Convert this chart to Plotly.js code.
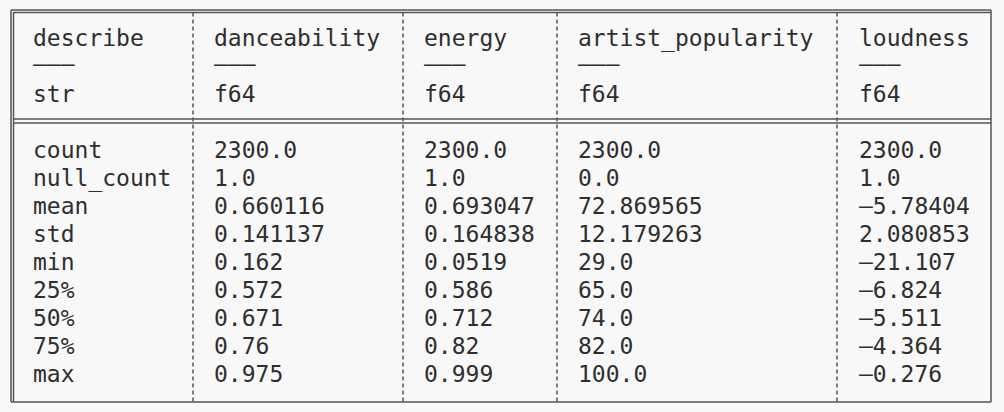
<!DOCTYPE html>
<html>
<head>
<meta charset="utf-8">
<script src="https://cdn.plot.ly/plotly-3.0.1.min.js"></script>
<style>html,body{margin:0;padding:0;background:#f8f8f8;}</style>
</head>
<body>
<div id="myDiv" style="width:1004px;height:412px;"></div>
<script>
var columns = ['describe', 'danceability', 'energy', 'artist_popularity', 'loudness'];
var dtypes = ['str', 'f64', 'f64', 'f64', 'f64'];
var stats = ['count', 'null_count', 'mean', 'std', 'min', '25%', '50%', '75%', 'max'];
var danceability = ['2300.0', '1.0', '0.660116', '0.141137', '0.162', '0.572', '0.671', '0.76', '0.975'];
var energy = ['2300.0', '1.0', '0.693047', '0.164838', '0.0519', '0.586', '0.712', '0.82', '0.999'];
var artistPopularity = ['2300.0', '0.0', '72.869565', '12.179263', '29.0', '65.0', '74.0', '82.0', '100.0'];
var loudness = ['2300.0', '1.0', '–5.78404', '2.080853', '–21.107', '–6.824', '–5.511', '–4.364', '–0.276'];

var colX = [33, 214, 424, 578, 859];
var sepX = [193, 403, 557, 837];
var lineColor = '#555';

var bodyCols = [stats, danceability, energy, artistPopularity, loudness];
var xs = [], ys = [], txt = [];
for (let c = 0; c < columns.length; c++) {
    xs.push(colX[c], colX[c], colX[c]);
    ys.push(40, 66, 96);
    txt.push(columns[c], '–––', dtypes[c]);
    for (let r = 0; r < bodyCols[c].length; r++) {
        xs.push(colX[c]);
        ys.push(152 + r * 28);
        txt.push(bodyCols[c][r]);
    }
}

var trace = {
    x: xs, y: ys, text: txt,
    mode: 'text', type: 'scatter',
    textposition: 'middle right',
    textfont: {family: 'DejaVu Sans Mono', size: 23, color: '#2e2e2e'},
    hoverinfo: 'none'
};

function hline(y, x0, x1) {
    return {type: 'line', xref: 'x', yref: 'y', x0: x0, x1: x1, y0: y, y1: y, line: {color: lineColor, width: 1.5}};
}
function vline(x, y0, y1, dash) {
    return {type: 'line', xref: 'x', yref: 'y', x0: x, x1: x, y0: y0, y1: y1, line: {color: lineColor, width: 1.5, dash: dash || 'solid'}};
}

var shapes = [
    hline(10, 11, 991), hline(12.5, 13, 991),
    hline(119, 13, 991), hline(123, 13, 991),
    hline(402, 11, 991),
    vline(11, 10, 402), vline(13.5, 12.5, 402),
    vline(991, 10, 402)
];
sepX.forEach(function (x) {
    shapes.push(vline(x, 12.5, 402, '4px,3px'));
});

var layout = {
    width: 1004, height: 412,
    margin: {l: 0, r: 0, t: 0, b: 0},
    paper_bgcolor: '#f8f8f8', plot_bgcolor: '#f8f8f8',
    showlegend: false,
    xaxis: {range: [0, 1004], visible: false, fixedrange: true},
    yaxis: {range: [412, 0], visible: false, fixedrange: true},
    shapes: shapes
};
var config = {displayModeBar: false, responsive: false, staticPlot: true};

Plotly.newPlot('myDiv', [trace], layout, config);
</script>
</body>
</html>
